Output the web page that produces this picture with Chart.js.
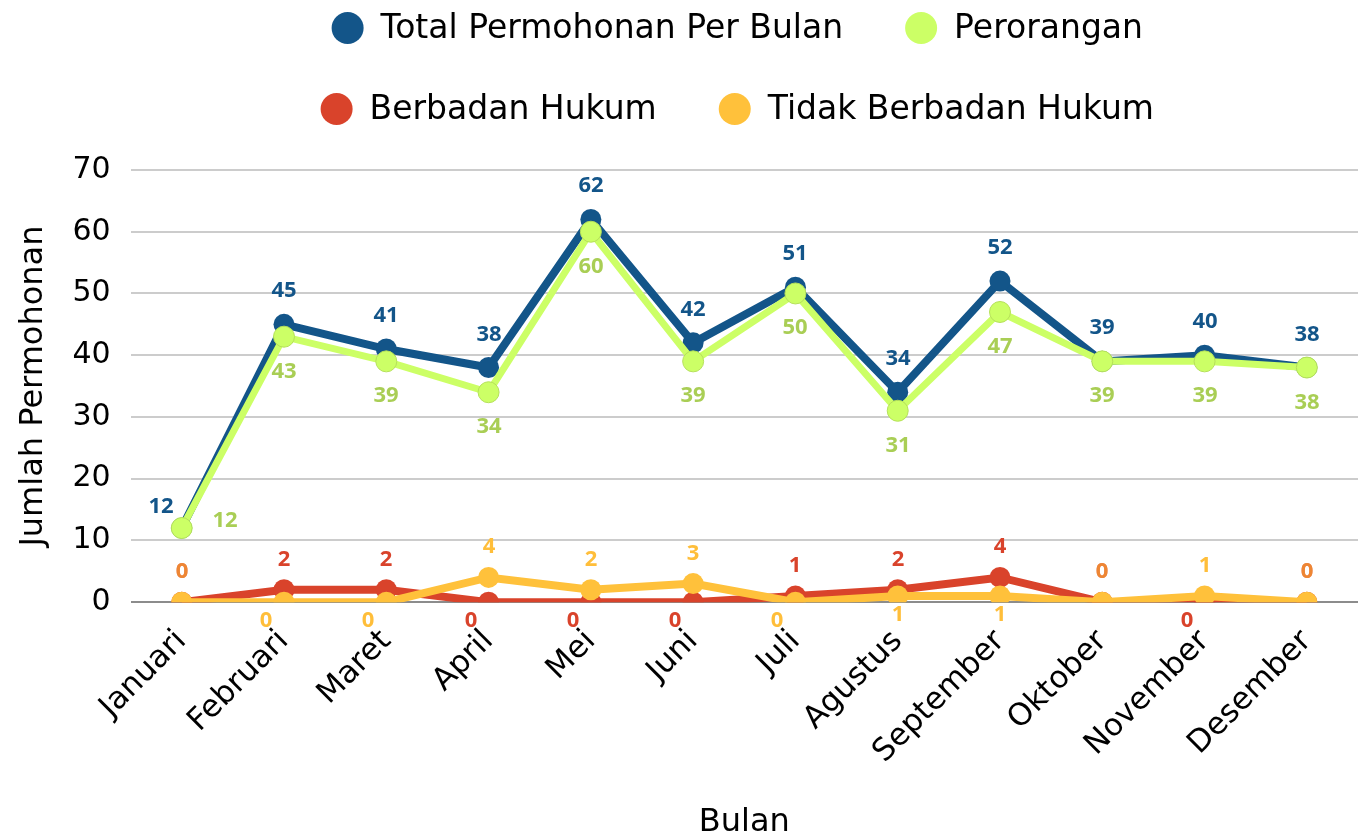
<!DOCTYPE html>
<html>
<head>
<meta charset="utf-8">
<script src="https://cdn.jsdelivr.net/npm/chart.js@4.4.1/dist/chart.umd.min.js"></script>
<style>
  html, body { margin: 0; padding: 0; background: #fff; overflow: hidden; }
  #wrap { width: 1358px; height: 836px; position: relative; }
  canvas { display: block; }
</style>
</head>
<body>
<div id="wrap"><canvas id="chart"></canvas></div>
<script>
const months = ["Januari", "Februari", "Maret", "April", "Mei", "Juni", "Juli", "Agustus", "September", "Oktober", "November", "Desember"];
const totalPermohonan = [12, 45, 41, 38, 62, 42, 51, 34, 52, 39, 40, 38];
const perorangan = [12, 43, 39, 34, 60, 39, 50, 31, 47, 39, 39, 38];
const berbadanHukum = [0, 2, 2, 0, 0, 0, 1, 2, 4, 0, 0, 0];
const tidakBerbadanHukum = [0, 0, 0, 4, 2, 3, 0, 1, 1, 0, 1, 0];

const mainFont = 'DejaVu Sans';

// legend drawn as two centred rows of two items
const rowLegend = {
  id: 'rowLegend',
  afterDraw(chart) {
    const ctx = chart.ctx;
    const ds = chart.data.datasets;
    const rows = [[0, 1], [2, 3]];
    const rowY = [28, 109];
    const r = 16;
    const cx = (chart.chartArea.left + chart.chartArea.right) / 2 - 7;
    ctx.save();
    ctx.font = '33px "' + mainFont + '"';
    ctx.textBaseline = 'middle';
    ctx.textAlign = 'left';
    rows.forEach((row, ri) => {
      const widths = row.map(i => 2 * r + 17 + ctx.measureText(ds[i].label).width);
      const total = widths.reduce((a, b) => a + b, 0) + 62 * (row.length - 1);
      let x = cx - total / 2;
      row.forEach((i, k) => {
        ctx.fillStyle = ds[i].borderColor;
        ctx.beginPath();
        ctx.arc(x + r, rowY[ri], r, 0, Math.PI * 2);
        ctx.fill();
        ctx.fillStyle = '#000';
        ctx.fillText(ds[i].label, x + 2 * r + 17, rowY[ri] + 1);
        x += widths[k] + 62;
      });
    });
    ctx.restore();
  }
};

// value labels next to every point
const valueLabels = {
  id: 'valueLabels',
  afterDatasetsDraw(chart) {
    const ctx = chart.ctx;
    const ds = chart.data.datasets;
    const seen = {};
    ctx.save();
    ctx.font = 'bold 22px "Open Sans"';
    ctx.textAlign = 'center';
    ctx.textBaseline = 'middle';
    ds.forEach((d, di) => {
      const meta = chart.getDatasetMeta(di);
      meta.data.forEach((pt, i) => {
        const v = d.data[i];
        let dx = 0, dy;
        if (di === 0) {
          dy = -33;
          if (i === 0) { dx = -21; dy = -21; }
        } else if (di === 1) {
          dy = 35;
          if (i === 0) { dx = 43; dy = -7; }
        } else {
          const other = ds[di === 2 ? 3 : 2].data[i];
          if (v >= other) {
            dy = -30;
          } else {
            dy = 19;
            if (v === 0) dx = -18;
          }
        }
        const x = Math.round(pt.x + dx), y = Math.round(pt.y + dy);
        const key = x + ',' + y;
        ctx.globalAlpha = seen[key] ? 0.55 : 1;
        seen[key] = true;
        ctx.fillStyle = d.labelColor;
        ctx.fillText(String(v), x, y);
      });
    });
    ctx.restore();
  }
};

new Chart(document.getElementById('chart'), {
  type: 'line',
  data: {
    labels: months,
    datasets: [
      {
        label: 'Total Permohonan Per Bulan',
        data: totalPermohonan,
        borderColor: '#135589',
        backgroundColor: '#135589',
        labelColor: '#135589',
        borderWidth: 8,
        pointRadius: 10.5,
        pointBorderWidth: 0,
        order: 4,
      },
      {
        label: 'Perorangan',
        data: perorangan,
        borderColor: '#CCFF66',
        backgroundColor: '#CCFF66',
        labelColor: '#A9CE55',
        borderWidth: 7,
        pointRadius: 10.5,
        pointBorderWidth: 1,
        pointBorderColor: '#B5E05A',
        order: 3,
      },
      {
        label: 'Berbadan Hukum',
        data: berbadanHukum,
        borderColor: '#D9432B',
        backgroundColor: '#D9432B',
        labelColor: '#D9432B',
        borderWidth: 8,
        pointRadius: 10.5,
        pointBorderWidth: 0,
        order: 2,
      },
      {
        label: 'Tidak Berbadan Hukum',
        data: tidakBerbadanHukum,
        borderColor: '#FFC13B',
        backgroundColor: '#FFC13B',
        labelColor: '#FFBE3A',
        borderWidth: 8,
        pointRadius: 10.5,
        pointBorderWidth: 0,
        order: 1,
      },
    ],
  },
  options: {
    responsive: true,
    maintainAspectRatio: false,
    animation: false,
    layout: { autoPadding: false, padding: { top: 170, left: 0, right: 0, bottom: -6 } },
    plugins: {
      legend: { display: false },
      tooltip: { enabled: false },
    },
    scales: {
      x: {
        offset: true,
        afterFit: s => { s.paddingRight = 0; },
        grid: { display: false },
        border: { display: false },
        ticks: {
          color: '#000',
          font: { family: mainFont, size: 31 },
          minRotation: 45,
          maxRotation: 45,
          padding: 13,
        },
        title: {
          display: true,
          text: 'Bulan',
          color: '#000',
          font: { family: mainFont, size: 32 },
          padding: { top: 20, bottom: 0 },
        },
      },
      y: {
        min: 0,
        max: 70,
        border: { display: false },
        grid: {
          color: c => c.tick.value === 0 ? '#8c8c8c' : '#cccccc',
          lineWidth: 2,
          drawTicks: false,
        },
        ticks: {
          stepSize: 10,
          color: '#000',
          font: { family: mainFont, size: 30 },
          padding: 20,
        },
        title: {
          display: true,
          text: 'Jumlah Permohonan',
          color: '#000',
          font: { family: mainFont, size: 32 },
          padding: { top: 14, bottom: 0 },
        },
      },
    },
  },
  plugins: [valueLabels, rowLegend],
});
</script>
</body>
</html>
